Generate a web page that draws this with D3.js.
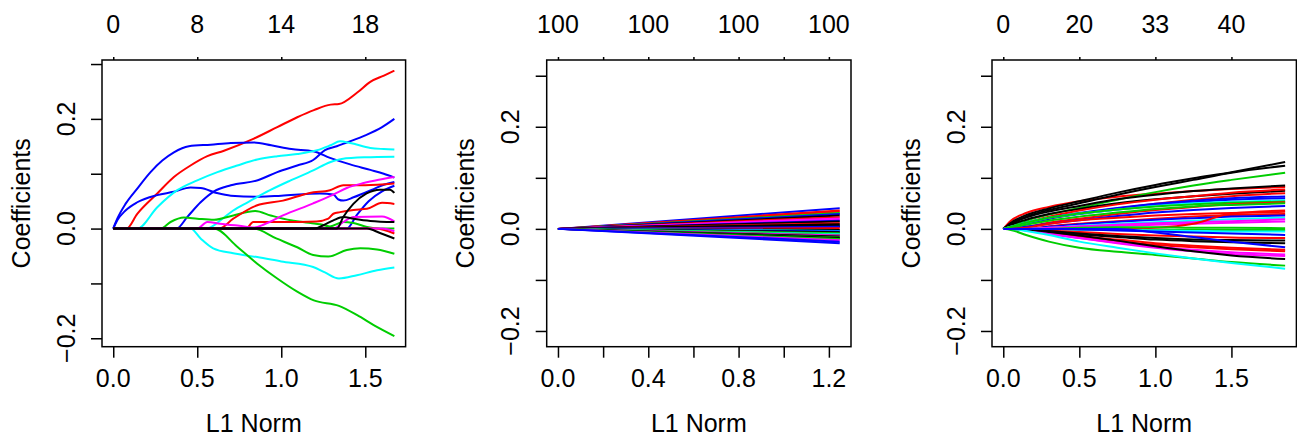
<!DOCTYPE html>
<html><head><meta charset="utf-8">
<script src="https://cdn.jsdelivr.net/npm/d3@7"></script>
<style>
body{margin:0;background:#fff}
svg{display:block}
text{font-family:"Liberation Sans",Arial,Helvetica,sans-serif;font-size:25px;fill:#000}
</style>
</head><body><svg id="c" width="1297" height="437"></svg>
<script>
// R default palette (col = 1:6)
const palette = ["#000000", "#FF0000", "#00CD00", "#0000FF", "#00FFFF", "#FF00FF"];

// ---------- Panel 1: lasso paths (L1 norm, coefficient) ----------
const lassoSeries = [
  [[0,0],[0.079,0],[0.143,0.027],[0.262,0.064],[0.361,0.094],[0.46,0.115],[0.56,0.132],[0.659,0.142],[0.837,0.164],[0.976,0.185],[1.095,0.203],[1.194,0.216],[1.294,0.226],[1.343,0.227],[1.452,0.248],[1.532,0.268],[1.611,0.279],[1.673,0.288]],
  [[0,0],[0.024,0.018],[0.073,0.045],[0.143,0.073],[0.222,0.103],[0.292,0.124],[0.361,0.139],[0.45,0.150],[0.58,0.153],[0.70,0.156],[0.837,0.157],[0.94,0.152],[1.06,0.145],[1.19,0.141],[1.29,0.129],[1.41,0.117],[1.53,0.107],[1.61,0.100],[1.673,0.093]],
  [[0,0],[0.024,0.015],[0.073,0.033],[0.143,0.048],[0.262,0.061],[0.36,0.067],[0.46,0.075],[0.52,0.074],[0.615,0.065],[0.70,0.060],[0.873,0.058],[1.0,0.060],[1.23,0.064],[1.31,0.062],[1.34,0.053],[1.37,0.051],[1.43,0.057],[1.55,0.072],[1.61,0.080],[1.673,0.085]],
  [[0,0],[0.377,0],[0.44,0.021],[0.52,0.048],[0.60,0.068],[0.70,0.079],[0.86,0.088],[0.976,0.103],[1.095,0.115],[1.19,0.125],[1.26,0.143],[1.33,0.150],[1.39,0.157],[1.5,0.170],[1.6,0.185],[1.673,0.2]],
  [[0,0],[1.389,0],[1.45,0.025],[1.52,0.050],[1.60,0.068],[1.673,0.078]],
  [[0,0],[0.143,0],[0.262,0.039],[0.381,0.070],[0.5,0.088],[0.62,0.103],[0.738,0.115],[0.857,0.126],[0.976,0.132],[1.095,0.136],[1.214,0.143],[1.294,0.152],[1.35,0.159],[1.41,0.156],[1.53,0.147],[1.61,0.145],[1.673,0.144]],
  [[0,0],[0.555,0],[0.65,0.018],[0.714,0.033],[0.80,0.048],[0.933,0.070],[1.05,0.087],[1.19,0.106],[1.29,0.121],[1.36,0.127],[1.5,0.130],[1.673,0.131]],
  [[0,0],[0.46,0],[0.52,-0.018],[0.595,-0.036],[0.714,-0.045],[0.857,-0.052],[1.0,-0.060],[1.19,-0.070],[1.26,-0.080],[1.343,-0.091],[1.45,-0.085],[1.57,-0.076],[1.673,-0.071]],
  [[0,0],[0.60,0],[0.738,-0.033],[0.857,-0.064],[0.976,-0.091],[1.095,-0.115],[1.194,-0.131],[1.343,-0.141],[1.452,-0.158],[1.55,-0.176],[1.673,-0.196]],
  [[0,0],[0.282,0],[0.341,0.012],[0.421,0.020],[0.5,0.018],[0.6,0.016],[0.714,0.024],[0.845,0.032],[0.937,0.024],[1.056,0.015],[1.175,0.010],[1.23,0.008],[1.29,0.004],[1.37,0.012],[1.43,0.010],[1.51,0.003],[1.59,0],[1.673,0]],
  [[0,0],[0.833,0],[0.97,-0.018],[1.095,-0.034],[1.19,-0.048],[1.28,-0.051],[1.39,-0.039],[1.47,-0.036],[1.57,-0.038],[1.673,-0.046]],
  [[0,0],[0.63,0],[0.714,0.018],[0.853,0.042],[1.01,0.051],[1.17,0.065],[1.29,0.070],[1.37,0.079],[1.5,0.079],[1.673,0.082]],
  [[0,0],[0.79,0],[0.833,0.012],[1.0,0.012],[1.21,0.013],[1.28,0.018],[1.31,0.027],[1.35,0.030],[1.43,0.034],[1.51,0.036],[1.6,0.047],[1.673,0.045]],
  [[0,0],[1.56,0],[1.673,-0.009]],
  [[0,0],[0.5,0],[0.56,0.012],[0.635,0.009],[0.75,0.005],[0.84,0.002],[0.9,0.008],[1.01,0.024],[1.19,0.046],[1.31,0.062],[1.39,0.074],[1.49,0.083],[1.58,0.089],[1.673,0.094]],
  [[0,0],[1.31,0],[1.37,0.012],[1.43,0.021],[1.6,0.022],[1.673,0.013]],
  [[0,0],[1.6,0],[1.673,-0.005]],
  [[0,0],[1.33,0],[1.369,0.021],[1.429,0.045],[1.508,0.064],[1.587,0.071],[1.647,0.071],[1.673,0.065]],
  [[0,0],[1.2,0],[1.25,0.006],[1.31,0.015],[1.37,0.021],[1.43,0.018],[1.53,0.014],[1.673,0.012]],
  [[0,0],[1.51,0],[1.587,-0.008],[1.673,-0.018]]
];
const lassoColors = [1,3,3,3,3,4,4,4,2,2,2,1,1,1,5,5,5,0,0,0];
const lassoXTicks = [0, 0.5, 1, 1.5];
const lassoXLabels = ["0.0", "0.5", "1.0", "1.5"];
const lassoDf = ["0", "8", "14", "18"];

// ---------- Panel 2: ridge paths (straight from origin) ----------
const ridgeX = [0, 1.248];
const ridgeEnd = [0.0405,0.036,0.034,0.031,0.029,0.026,0.023,0.0205,0.018,0.016,0.0144,0.011,0.009,0.0065,0.0046,0.004,0.0013,-0.0007,-0.002,-0.004,-0.0052,-0.0065,-0.0085,-0.0105,-0.0118,-0.013,-0.015,-0.017,-0.018,-0.020,-0.0225,-0.025,-0.028];
const ridgeColors = [3,1,1,2,3,0,1,5,5,3,0,1,0,0,0,3,1,5,0,4,3,0,2,4,2,5,0,2,0,2,5,3,3];
const ridgeXTicks = [0, 0.2, 0.4, 0.6, 0.8, 1.0, 1.2];
const ridgeXLabels = ["0.0", "", "0.4", "", "0.8", "", "1.2"];
const ridgeDf = ["100", "", "100", "", "100", "", "100"];

// ---------- Panel 3: elastic net paths ----------
const enX = [0, 0.05, 0.15, 0.3, 0.5, 0.75, 1.0, 1.25, 1.5, 1.853];
const enSeries = [
  [0,0.016,0.031,0.043,0.054,0.063,0.069,0.074,0.078,0.082],
  [0,0.012,0.027,0.040,0.054,0.071,0.086,0.099,0.111,0.131],
  [0,0.010,0.024,0.037,0.050,0.067,0.082,0.096,0.110,0.1235],
  [0,0.006,0.016,0.028,0.041,0.057,0.072,0.085,0.096,0.110],
  [0,0.010,0.022,0.034,0.045,0.058,0.067,0.074,0.079,0.085],
  [0,0.008,0.018,0.029,0.039,0.050,0.058,0.064,0.069,0.0745],
  [0,0.004,0.012,0.024,0.036,0.048,0.057,0.064,0.071,0.077],
  [0,0.003,0.010,0.020,0.030,0.040,0.049,0.057,0.064,0.070],
  [0,0.004,0.012,0.022,0.031,0.041,0.049,0.055,0.060,0.0634],
  [0,0.003,0.010,0.020,0.029,0.038,0.046,0.052,0.057,0.060],
  [0,0.004,0.012,0.022,0.030,0.038,0.045,0.050,0.053,0.056],
  [0,0.004,0.012,0.022,0.030,0.038,0.044,0.048,0.051,0.0536],
  [0,0,0.004,0.012,0.020,0.029,0.037,0.043,0.048,0.052],
  [0,0.002,0.008,0.016,0.024,0.032,0.039,0.044,0.047,0.050],
  [0,0,0.004,0.010,0.017,0.025,0.032,0.037,0.041,0.045],
  [0,0,0.002,0.010,0.017,0.022,0.026,0.029,0.031,0.0333],
  [0,0,0,0.005,0.010,0.015,0.020,0.024,0.027,0.029],
  [0,0,0,0.004,0.009,0.014,0.018,0.021,0.024,0.026],
  [0,0,0,0.002,0.006,0.010,0.013,0.016,0.019,0.022],
  [0,0,0,0.002,0.005,0.008,0.011,0.013,0.015,0.019],
  [0,0,0,0,0.003,0.006,0.008,0.010,0.012,0.0144],
  [0,0,0,0,0,0,0.002,0.010,0.030,0.036],
  [0,0,0,0,0.002,0.003,0.003,0.002,0.002,0.0013],
  [0,0,0,0,-0.001,-0.001,-0.002,-0.002,-0.002,-0.002],
  [0,0,0,0,-0.001,-0.002,-0.003,-0.004,-0.005,-0.0052],
  [0,0,0,0,-0.001,-0.003,-0.005,-0.007,-0.009,-0.0118],
  [0,0,0,-0.003,-0.006,-0.010,-0.013,-0.015,-0.017,-0.018],
  [0,0,0,-0.004,-0.009,-0.014,-0.018,-0.021,-0.022,-0.023],
  [0,0,-0.002,-0.006,-0.011,-0.016,-0.021,-0.024,-0.026,-0.028],
  [0,0,-0.002,-0.007,-0.014,-0.021,-0.028,-0.033,-0.037,-0.041],
  [0,0,-0.003,-0.009,-0.016,-0.024,-0.031,-0.036,-0.040,-0.044],
  [0,0,-0.003,-0.010,-0.018,-0.027,-0.035,-0.041,-0.046,-0.050],
  [0,0,-0.002,-0.009,-0.018,-0.028,-0.037,-0.044,-0.049,-0.053],
  [0,0,-0.001,-0.006,-0.013,-0.023,-0.034,-0.044,-0.052,-0.059],
  [0,-0.002,-0.012,-0.025,-0.037,-0.045,-0.051,-0.058,-0.065,-0.072],
  [0,0,-0.004,-0.012,-0.025,-0.037,-0.048,-0.058,-0.067,-0.078],
  [0,0,0,0,0,0,-0.007,-0.016,-0.025,-0.036]
];
const enColors = [1,0,0,2,0,0,1,1,3,3,4,2,1,2,3,1,1,3,4,5,5,1,2,2,4,3,1,0,0,1,1,5,5,0,2,4,3];
const enXTicks = [0, 0.5, 1, 1.5];
const enXLabels = ["0.0", "0.5", "1.0", "1.5"];
const enDf = ["0", "20", "33", "40"];

// shared y axis
const yTicks = [-0.2, -0.1, 0, 0.1, 0.2, 0.3];
const yLabels = ["\u22120.2", "", "0.0", "", "0.2", ""];
const fixedYLim = [-0.21, 0.31];

// ---------- drawing ----------
const svg = d3.select("#c");
const TOP = 60, BOTTOM = 346.7;

function pad(ext) { const r = ext[1] - ext[0]; return [ext[0] - 0.04 * r, ext[1] + 0.04 * r]; }

function drawPanel(cfg) {
  const g = svg.append("g");
  const x = d3.scaleLinear().domain(pad(cfg.xExt)).range([cfg.left, cfg.right]);
  const y = d3.scaleLinear().domain(pad(cfg.yExt)).range([BOTTOM, TOP]);
  const line = d3.line().x(d => x(d[0])).y(d => y(d[1])).curve(cfg.curve);

  g.selectAll("path.s").data(cfg.series).join("path")
    .attr("class", "s")
    .attr("d", d => line(d.pts))
    .attr("fill", "none")
    .attr("stroke", d => palette[d.col])
    .attr("stroke-width", 2)
    .attr("stroke-linejoin", "round");

  g.append("rect")
    .attr("x", cfg.left).attr("y", TOP)
    .attr("width", cfg.right - cfg.left).attr("height", BOTTOM - TOP)
    .attr("fill", "none").attr("stroke", "#000").attr("stroke-width", 1.5);

  const styleAxis = s => { s.select(".domain").remove(); s.selectAll("line").attr("stroke", "#000").attr("stroke-width", 1.5); s.selectAll("text").remove(); };

  g.append("g").attr("transform", `translate(0,${BOTTOM})`)
    .call(d3.axisBottom(x).tickValues(cfg.xTicks).tickSize(11).tickSizeOuter(0))
    .call(styleAxis);
  g.append("g").attr("transform", `translate(0,${TOP})`)
    .call(d3.axisTop(x).tickValues(cfg.xTicks).tickSize(3).tickSizeOuter(0))
    .call(styleAxis);
  g.append("g").attr("transform", `translate(${cfg.left},0)`)
    .call(d3.axisLeft(y).tickValues(yTicks).tickSize(11).tickSizeOuter(0))
    .call(styleAxis);

  cfg.xTicks.forEach((t, i) => {
    if (cfg.xLabels[i]) g.append("text").attr("x", x(t)).attr("y", 387).attr("text-anchor", "middle").text(cfg.xLabels[i]);
    if (cfg.topLabels[i]) g.append("text").attr("x", x(t)).attr("y", 33).attr("text-anchor", "middle").text(cfg.topLabels[i]);
  });
  yTicks.forEach((t, i) => {
    if (yLabels[i]) g.append("text")
      .attr("transform", `translate(${cfg.left - 27.5},${y(t)}) rotate(-90)`)
      .attr("text-anchor", "middle").text(yLabels[i]);
  });
  g.append("text").attr("x", (cfg.left + cfg.right) / 2).attr("y", 432).attr("text-anchor", "middle").text("L1 Norm");
  g.append("text")
    .attr("transform", `translate(${cfg.left - 72.5},${(TOP + BOTTOM) / 2}) rotate(-90)`)
    .attr("text-anchor", "middle").text("Coefficients");
}

// panel 1
const lassoData = lassoSeries.map((pts, i) => ({ pts, col: lassoColors[i] }));
const lassoAllX = lassoSeries.flat().map(p => p[0]);
const lassoAllY = lassoSeries.flat().map(p => p[1]);
drawPanel({
  left: 102, right: 405.6,
  xExt: [0, d3.max(lassoAllX)], yExt: d3.extent(lassoAllY),
  series: lassoData, curve: d3.curveMonotoneX,
  xTicks: lassoXTicks, xLabels: lassoXLabels, topLabels: lassoDf
});

// panel 2
const ridgeData = ridgeEnd.map((v, i) => ({ pts: [[ridgeX[0], 0], [ridgeX[1], v]], col: ridgeColors[i] }));
drawPanel({
  left: 546.7, right: 851,
  xExt: [0, ridgeX[1]], yExt: fixedYLim,
  series: ridgeData, curve: d3.curveLinear,
  xTicks: ridgeXTicks, xLabels: ridgeXLabels, topLabels: ridgeDf
});

// panel 3
const enData = enSeries.map((vals, i) => ({ pts: vals.map((v, j) => [enX[j], v]), col: enColors[i] }));
drawPanel({
  left: 992, right: 1296.4,
  xExt: [0, d3.max(enX)], yExt: fixedYLim,
  series: enData, curve: d3.curveMonotoneX,
  xTicks: enXTicks, xLabels: enXLabels, topLabels: enDf
});
</script>
</body></html>
